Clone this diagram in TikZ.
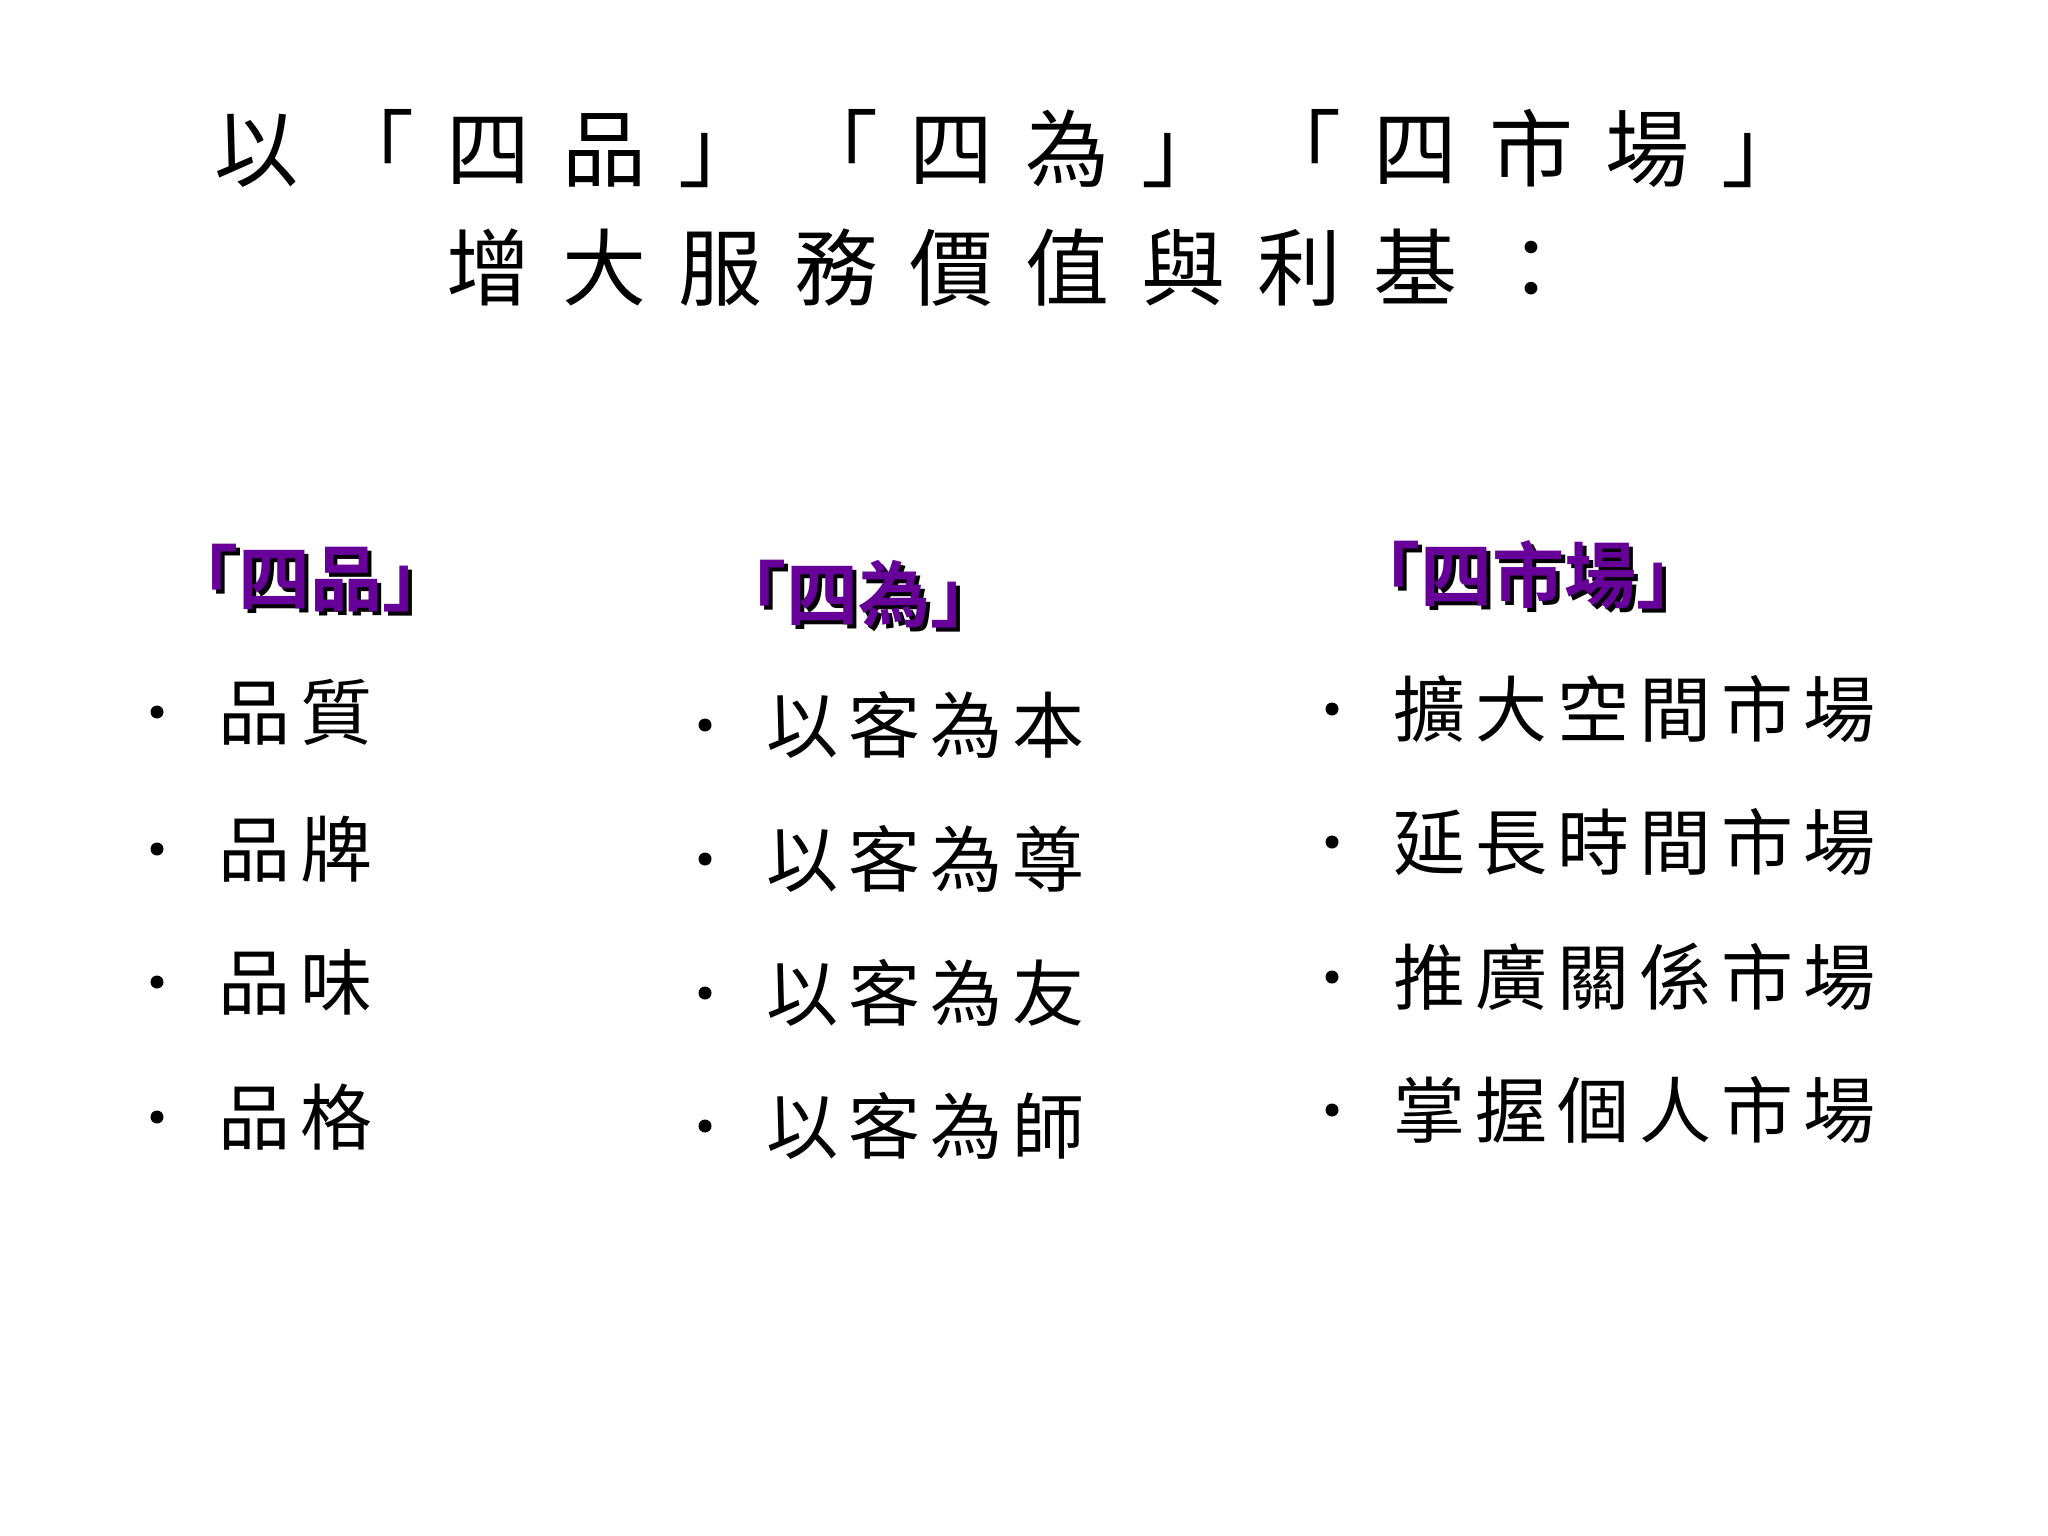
\documentclass[tikz,border=0pt]{standalone}
\usepackage{fontspec}
\newfontfamily\cjk{Noto Sans CJK TC}
\newfontfamily\cjkb{Noto Sans CJK TC Bold}
\begin{document}
\begin{tikzpicture}[x=1pt,y=-1pt,
  title/.style={font={\cjk\fontsize{84}{100}\selectfont\addfontfeature{LetterSpace=38}}},
  head/.style={font={\cjkb\fontsize{72}{80}\selectfont}},
  item/.style={anchor=west,font={\cjk\fontsize{72}{80}\selectfont\addfontfeature{LetterSpace=14}}},
  dot/.style={circle,fill=black,inner sep=0pt,minimum size=13pt}]
\useasboundingbox (0,0) rectangle (2048,1536);
\node[title] (t1) at (1010,148) {以「四品」「四為」「四市場」};
\node[title] (t2) at (1010,268) {增大服務價值與利基：};
\foreach \n/\x/\y/\t in {h1/310/578/「四品」,h2/858/594/「四為」,h3/1528/575/「四市場」}{
  \node[head,text=black] at (\x+4,\y+4) {\t};
  \node[head,text=violet!80!blue] (\n) at (\x,\y) {\t};
}
\foreach \i/\y/\t in {1/712/品質,2/849/品牌,3/982/品味,4/1117/品格}{
  \node[dot] (a\i) at (157,\y) {};
  \node[item] (at\i) at (215,\y) {\t};
}
\foreach \i/\y/\t in {1/725/以客為本,2/859/以客為尊,3/993/以客為友,4/1126/以客為師}{
  \node[dot] (b\i) at (705,\y) {};
  \node[item] (bt\i) at (763,\y) {\t};
}
\foreach \i/\y/\t in {1/709/擴大空間市場,2/842/延長時間市場,3/977/推廣關係市場,4/1110/掌握個人市場}{
  \node[dot] (c\i) at (1332,\y) {};
  \node[item] (ct\i) at (1390,\y) {\t};
}
\end{tikzpicture}
\end{document}
